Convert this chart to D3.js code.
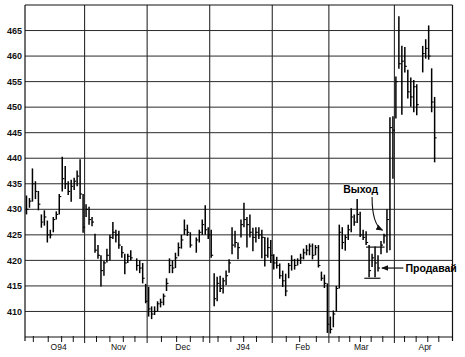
<!DOCTYPE html>
<html><head><meta charset="utf-8">
<script src="https://cdn.jsdelivr.net/npm/d3@7"></script>
<style>html,body{margin:0;padding:0;background:#fff}svg{display:block}</style>
</head><body>
<script>
// ---- data (trading-day index, one entry per day; null = no bar) ----
const highs = [432.7,432.2,438.0,435.5,433.6,429.0,429.8,427.8,426.0,428.5,429.6,433.0,440.3,438.5,435.5,435.8,436.2,437.6,439.8,433.0,
431.0,430.5,428.5,425.2,423.0,421.0,419.9,422.3,425.0,427.5,426.0,425.8,422.8,421.3,421.3,422.0,null,420.4,420.0,419.5,415.4,
414.8,411.0,411.0,412.0,412.5,413.5,416.5,420.4,420.0,421.5,423.5,425.0,428.0,427.0,425.5,null,424.5,426.0,428.0,430.8,426.5,
426.0,417.5,416.8,417.0,416.6,418.0,420.2,426.5,425.8,423.5,428.0,431.3,428.5,429.0,426.4,426.5,426.5,426.0,424.6,424.5,424.0,
421.2,420.7,419.4,418.0,417.4,419.5,421.0,420.3,420.4,421.3,422.3,423.0,423.3,423.3,423.0,423.0,417.8,417.2,415.5,
409.0,410.2,415.0,427.0,426.5,425.0,427.0,430.2,429.0,432.0,429.5,426.0,425.7,423.0,421.3,422.7,421.0,423.8,425.2,430.0,448.0,448.2,
456.0,467.8,462.0,461.8,457.3,455.8,455.3,454.5,null,462.0,463.3,466.0,457.6,452.0];
const lows = [429.0,430.3,431.5,432.0,429.8,426.4,426.8,423.5,424.3,425.5,428.0,429.0,433.5,434.0,432.8,431.5,433.8,434.5,432.0,425.4,
428.5,427.0,426.7,421.5,420.3,414.9,417.0,419.6,420.0,424.2,423.5,422.3,420.5,417.3,419.5,420.0,null,418.0,417.5,415.5,411.6,
409.0,408.5,409.3,410.0,410.8,411.2,414.0,417.5,417.5,418.5,420.8,422.3,425.0,424.8,422.5,null,421.5,423.5,425.0,425.0,424.2,
420.5,411.0,412.0,413.8,413.5,415.2,417.6,421.2,422.5,420.2,424.5,426.5,422.5,424.5,421.8,423.5,424.2,420.4,418.8,420.5,419.5,
418.2,418.4,416.4,414.8,413.0,416.5,418.0,418.2,419.0,419.3,420.2,421.0,421.0,420.2,421.0,418.6,416.0,414.6,405.8,
405.7,406.9,410.0,414.5,422.2,421.9,424.0,425.5,426.8,427.3,424.6,424.0,423.0,416.7,418.7,416.7,417.8,421.2,423.3,421.5,422.0,436.0,
447.8,457.5,448.5,456.8,451.7,450.1,449.0,448.4,null,456.8,459.5,459.3,449.0,439.2];
const closes = [430.0,431.6,435.0,433.5,431.0,427.5,428.5,425.0,425.0,428.0,429.0,432.5,436.0,435.0,433.5,434.5,435.5,436.5,433.0,426.5,
430.0,428.0,427.5,422.0,421.0,418.0,419.5,421.0,424.5,425.5,425.0,423.0,421.5,419.5,420.8,420.5,null,419.0,418.5,416.5,412.0,
410.5,409.5,410.0,411.5,411.8,413.0,415.5,419.0,418.5,420.5,422.5,424.0,426.0,425.5,423.0,null,424.0,425.5,427.0,426.0,425.0,
421.0,412.5,415.5,414.5,416.0,417.0,419.5,423.0,423.5,422.5,427.0,428.0,427.0,425.5,424.5,425.5,425.0,424.5,421.0,422.5,421.0,
419.5,419.0,417.0,416.0,414.0,419.0,420.0,419.0,420.0,420.5,421.5,422.0,422.8,421.0,422.5,419.0,416.5,415.5,407.5,
406.5,409.5,414.5,425.5,423.5,424.5,426.0,428.5,427.5,429.0,425.0,424.5,423.5,418.0,420.5,419.5,418.5,423.0,424.8,428.0,446.0,445.5,
455.0,458.5,459.0,458.0,453.0,452.0,454.0,450.5,null,460.5,461.5,460.0,451.0,444.0];

const yTicks = [410, 415, 420, 425, 430, 435, 440, 445, 450, 455, 460, 465];
const monthStarts = [20, 41, 62, 83, 102, 124];            // day index where a month begins
const monthLabels = ["O94", "Nov", "Dec", "J94", "Feb", "Mar", "Apr"];
const labelDays   = [11.3, 31.4, 53, 73.2, 93.2, 112.9, 134.3];
const minorTicks  = [2.8, 7.8, 12.3, 16.2, 24, 28.5, 33, 36.9, 45.8, 50.9, 55.5, 59.8, 64.8, 69.1, 73.4, 77.7,
                     87.7, 92.2, 97.8, 105.4, 109, 112.6, 116.2, 120.1, 127.4, 131.3, 135.2, 138.9];
// trading-range lines in March: [startDay, endDay, price]
const rangeLines = [[114.5, 120.7, 422.6], [113.9, 119.3, 416.5]];

// ---- layout ----
const W = 465, H = 357;
const L = 25, R = 452.5, T = 5, B = 337;
const x = d3.scaleLinear().domain([0, 143.5]).range([L, R]);
const y = d3.scaleLinear().domain([405, 470]).range([B, T]);

const svg = d3.select("body").append("svg").attr("width", W).attr("height", H)
  .style("font-family", "'Liberation Sans', Arial, Helvetica, sans-serif");
svg.append("rect").attr("width", W).attr("height", H).attr("fill", "#fff");

const defs = svg.append("defs");
defs.append("marker").attr("id", "ah").attr("viewBox", "0 0 10 10")
  .attr("refX", 9).attr("refY", 5).attr("markerWidth", 7).attr("markerHeight", 7)
  .attr("orient", "auto").attr("markerUnits", "userSpaceOnUse")
  .append("path").attr("d", "M0,1 L10,5 L0,9 Z").attr("fill", "#111");

// horizontal grid
svg.append("g").selectAll("line").data(yTicks).join("line")
  .attr("x1", L).attr("x2", R).attr("y1", d => y(d)).attr("y2", d => y(d))
  .attr("stroke", "#2a2a2a").attr("stroke-width", 1);

// vertical month lines
svg.append("g").selectAll("line").data(monthStarts).join("line")
  .attr("x1", d => x(d)).attr("x2", d => x(d)).attr("y1", T).attr("y2", B + 6)
  .attr("stroke", "#2a2a2a").attr("stroke-width", 1.1);

// frame
const frame = svg.append("g").attr("stroke", "#111").attr("stroke-width", 1.2);
frame.append("line").attr("x1", L).attr("x2", R).attr("y1", T).attr("y2", T);
frame.append("line").attr("x1", L).attr("x2", L).attr("y1", T).attr("y2", B + 4);
frame.append("line").attr("x1", R).attr("x2", R).attr("y1", T).attr("y2", B + 4);
frame.append("line").attr("x1", L).attr("x2", R).attr("y1", B).attr("y2", B);

// x minor ticks
svg.append("g").selectAll("line").data(minorTicks).join("line")
  .attr("x1", d => x(d)).attr("x2", d => x(d)).attr("y1", B - 1).attr("y2", B + 5)
  .attr("stroke", "#111").attr("stroke-width", 1);

// y labels
svg.append("g").selectAll("text").data(yTicks).join("text")
  .attr("x", 22).attr("y", d => y(d)).attr("dy", "0.35em")
  .attr("text-anchor", "end").attr("font-size", 9).attr("font-weight", "bold")
  .attr("fill", "#111").text(d => d);

// x labels
svg.append("g").selectAll("text").data(monthLabels).join("text")
  .attr("x", (d, i) => x(labelDays[i])).attr("y", 350)
  .attr("text-anchor", "middle").attr("font-size", 8.5)
  .attr("fill", "#111").text(d => d);

// OHLC bars
const idx = d3.range(highs.length).filter(i => highs[i] != null);
const bars = svg.append("g").attr("stroke", "#000");
bars.selectAll("line.hl").data(idx).join("line").attr("class", "hl")
  .attr("x1", i => x(i + 0.5)).attr("x2", i => x(i + 0.5))
  .attr("y1", i => y(highs[i])).attr("y2", i => y(lows[i]))
  .attr("stroke-width", 1.5);
bars.selectAll("line.c").data(idx).join("line").attr("class", "c")
  .attr("x1", i => x(i + 0.5)).attr("x2", i => x(i + 0.5) + 2)
  .attr("y1", i => y(closes[i])).attr("y2", i => y(closes[i]))
  .attr("stroke-width", 1.1);

// range lines
svg.append("g").selectAll("line").data(rangeLines).join("line")
  .attr("x1", d => x(d[0])).attr("x2", d => x(d[1]))
  .attr("y1", d => y(d[2])).attr("y2", d => y(d[2]))
  .attr("stroke", "#111").attr("stroke-width", 1.2);

// annotations
const ann = svg.append("g").attr("fill", "#000").attr("font-weight", "bold").attr("font-size", 10.5);
ann.append("text").attr("x", x(106.8)).attr("y", y(433.1)).text("Выход");
ann.append("text").attr("x", x(127.7)).attr("y", y(417.7)).text("Продавай");

const p1 = [x(116.5), y(432.4)], pc = [x(116.5), y(427.0)], p2 = [x(120.0), y(425.9)];
svg.append("path")
  .attr("d", `M${p1[0]},${p1[1]} Q${pc[0]},${pc[1]} ${p2[0]},${p2[1]}`)
  .attr("fill", "none").attr("stroke", "#111").attr("stroke-width", 1.1)
  .attr("marker-end", "url(#ah)");
svg.append("line")
  .attr("x1", x(127.0)).attr("y1", y(418.5)).attr("x2", x(119.8)).attr("y2", y(418.5))
  .attr("stroke", "#111").attr("stroke-width", 1.2).attr("marker-end", "url(#ah)");
</script>
</body></html>
